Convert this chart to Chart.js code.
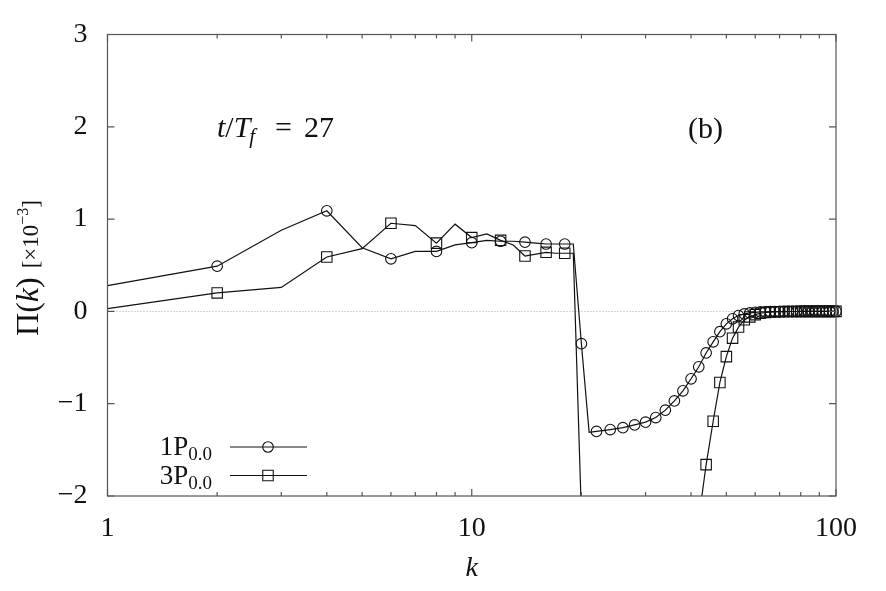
<!DOCTYPE html>
<html><head><meta charset="utf-8">
<script src="https://cdn.jsdelivr.net/npm/chart.js@4.4.0/dist/chart.umd.min.js"></script>
<style>html,body{margin:0;padding:0;background:#fff}#wrap{width:886px;height:591px}</style>
</head><body><div id="wrap"><canvas id="c" width="886" height="591"></canvas></div>
<script>
// ---- data ----
const k1P = [1,2,3,4,5,6,7,8,9,10,11,12,13,14,15,16,17,18,19,20,21,
  22,24,26,28,30,32,34,36,38,40,42,44,46,48,50,52,54,56,58,60,
  62,64,66,68,70,72,74,76,78,80,82,84,86,88,90,92,94,96,98,100];
const pi1P = [0.28,0.49,0.88,1.09,0.69,0.57,0.65,0.65,0.72,0.745,0.77,0.76,0.76,0.75,0.74,0.73,0.73,0.73,0.73,-0.35,-1.31,
  -1.30,-1.28,-1.26,-1.23,-1.20,-1.15,-1.07,-0.97,-0.86,-0.73,-0.60,-0.45,-0.33,-0.22,-0.135,-0.08,-0.045,-0.027,-0.016,-0.01,
  -0.006,-0.004,-0.003,-0.002,-0.002,-0.001,-0.001,-0.001,-0.001,0,0,0,0,0,0,0,0,0,0,0];
const k3P = [1,2,3,4,5,6,7,8,9,10,11,12,13,14,15,16,17,18,19,20,
  42,44,46,48,50,52,54,56,58,60,
  62,64,66,68,70,72,74,76,78,80,82,84,86,88,90,92,94,96,98,100];
const pi3P = [0.03,0.20,0.26,0.59,0.68,0.955,0.93,0.74,0.945,0.80,0.84,0.77,0.72,0.60,0.62,0.64,0.63,0.63,0.63,-2.2,
  -2.25,-1.66,-1.19,-0.77,-0.49,-0.29,-0.17,-0.09,-0.06,-0.035,
  -0.02,-0.012,-0.007,-0.004,-0.003,-0.002,-0.001,-0.001,-0.001,0,0,0,0,0,0,0,0,0,0,0];
const xTickLabels = [1,10,100];
const xMinorTicks = [2,3,4,5,6,7,8,9,20,30,40,50,60,70,80,90];
const yTicks = [-2,-1,0,1,2,3];
const seriesNames = ['1P','3P'];
const seriesSub = '0.0';
const timeLabel = {t:'t', T:'T', f:'f', value:'27'};
const panelLabel = '(b)';

const SERIF = '"Liberation Serif", "Times New Roman", serif';
const toPts = (ks, vs) => ks.map((k,i)=>({x:k, y:vs[i]}));
const evenRadius = r => ctx => (ctx.raw && ctx.raw.x % 2 === 0) ? r : 0;

function drawRuns(ctx, runs, x, y){
  let cx = x;
  runs.forEach(r=>{
    ctx.font = r.font;
    ctx.fillText(r.text, cx, y + (r.dy||0));
    cx += ctx.measureText(r.text).width + (r.gap||0);
  });
  return cx - x;
}
function runsWidth(ctx, runs){
  let w=0; runs.forEach(r=>{ctx.font=r.font; w+=ctx.measureText(r.text).width+(r.gap||0);}); return w;
}

const deco = {
  id:'deco',
  beforeDatasetsDraw(chart){
    const {ctx, chartArea:a, scales:{y}} = chart;
    const y0 = y.getPixelForValue(0);
    ctx.save();
    ctx.strokeStyle = '#aaaaaa'; ctx.lineWidth = 1; ctx.setLineDash([1,2]);
    ctx.beginPath(); ctx.moveTo(a.left, Math.round(y0)+0.5); ctx.lineTo(a.right, Math.round(y0)+0.5); ctx.stroke();
    ctx.restore();
  },
  afterDraw(chart){
    const {ctx, chartArea:a, scales:{x,y}} = chart;
    ctx.save();
    // frame
    ctx.strokeStyle = '#555'; ctx.lineWidth = 1.2;
    ctx.strokeRect(a.left, a.top, a.right-a.left, a.bottom-a.top);
    // ticks
    ctx.beginPath();
    xTickLabels.forEach(v=>{const px=x.getPixelForValue(v);
      ctx.moveTo(px,a.bottom); ctx.lineTo(px,a.bottom-7); ctx.moveTo(px,a.top); ctx.lineTo(px,a.top+7);});
    xMinorTicks.forEach(v=>{const px=x.getPixelForValue(v);
      ctx.moveTo(px,a.bottom); ctx.lineTo(px,a.bottom-4); ctx.moveTo(px,a.top); ctx.lineTo(px,a.top+4);});
    yTicks.forEach(v=>{const py=y.getPixelForValue(v);
      ctx.moveTo(a.left,py); ctx.lineTo(a.left+7,py); ctx.moveTo(a.right,py); ctx.lineTo(a.right-7,py);});
    ctx.stroke();

    ctx.fillStyle = '#111'; ctx.textBaseline = 'alphabetic'; ctx.textAlign = 'left';
    // t/T_f = 27
    drawRuns(ctx, [
      {text:timeLabel.t, font:'italic 30px '+SERIF},
      {text:'/', font:'30px '+SERIF},
      {text:timeLabel.T, font:'italic 30px '+SERIF, gap:-1},
      {text:timeLabel.f, font:'italic 21px '+SERIF, dy:6}
    ], 217, 137);
    ctx.font = '30px '+SERIF; ctx.fillText('=', 275, 137);
    ctx.fillText(timeLabel.value, 304, 137);
    // (b)
    ctx.font = '30px '+SERIF; ctx.fillText(panelLabel, 688, 138);

    // y title
    ctx.save();
    ctx.translate(38, 268); ctx.rotate(-Math.PI/2);
    const yRuns = [
      {text:'Π(', font:'32px '+SERIF},
      {text:'k', font:'italic 32px '+SERIF},
      {text:')', font:'32px '+SERIF, gap:9},
      {text:'[×10', font:'23px '+SERIF},
      {text:'−3', font:'16px '+SERIF, dy:-10},
      {text:']', font:'23px '+SERIF}
    ];
    drawRuns(ctx, yRuns, -runsWidth(ctx,yRuns)/2, 0);
    ctx.restore();

    // legend
    const legY = [447, 475.5];
    const styles = ['circle','rect'];
    const radii = [5.3, 7.4];
    legY.forEach((ly,i)=>{
      ctx.fillStyle = '#111';
      const runs = [{text:seriesNames[i], font:'27px '+SERIF},{text:seriesSub, font:'19px '+SERIF, dy:5}];
      drawRuns(ctx, runs, 212 - runsWidth(ctx,runs), ly+8);
      ctx.strokeStyle = '#111'; ctx.lineWidth = 1.2;
      ctx.beginPath(); ctx.moveTo(230, ly); ctx.lineTo(307, ly); ctx.stroke();
      ctx.fillStyle = 'rgba(0,0,0,0)'; ctx.lineWidth = 1.1;
      Chart.helpers.drawPoint(ctx, {pointStyle:styles[i], radius:radii[i], borderWidth:1.1, rotation:0}, 268, ly);
    });
    ctx.restore();
  }
};

new Chart(document.getElementById('c'), {
  type:'line',
  data:{datasets:[
    {label:'1P0.0', data:toPts(k1P,pi1P), borderColor:'#111', borderWidth:1.2,
     pointStyle:'circle', pointRadius:evenRadius(5.3), pointHoverRadius:0, pointBorderWidth:1.1,
     pointBorderColor:'#111', pointBackgroundColor:'rgba(0,0,0,0)', tension:0,
     clip:{left:10,right:10,top:10,bottom:0}},
    {label:'3P0.0', data:toPts(k3P,pi3P), borderColor:'#111', borderWidth:1.2,
     pointStyle:'rect', pointRadius:evenRadius(7.4), pointHoverRadius:0, pointBorderWidth:1.1,
     pointBorderColor:'#111', pointBackgroundColor:'rgba(0,0,0,0)', tension:0,
     clip:{left:10,right:10,top:10,bottom:0}}
  ]},
  options:{
    responsive:false, animation:false, devicePixelRatio:1,
    layout:{padding:{top:34.5, right:50, left:0, bottom:0}},
    plugins:{legend:{display:false}, tooltip:{enabled:false}},
    scales:{
      x:{type:'logarithmic', min:1, max:100,
        grid:{display:false}, border:{display:false},
        ticks:{autoSkip:false, maxRotation:0, padding:8, color:'#111',
          font:{family:SERIF, size:28},
          callback:(v)=> xTickLabels.some(t=>Math.abs(t-v)<1e-6) ? String(Math.round(v)) : ''},
        title:{display:true, text:'k', color:'#111', font:{family:SERIF, size:28, style:'italic'}, padding:{top:0,bottom:6}},
        afterFit:(s)=>{s.height=95;}
      },
      y:{type:'linear', min:-2, max:3,
        grid:{display:false}, border:{display:false},
        ticks:{stepSize:1, padding:12, color:'#111', font:{family:SERIF, size:28},
          callback:(v)=> v<0 ? '−'+Math.abs(v) : String(v)},
        afterFit:(s)=>{s.width=107.5;}
      }
    }
  },
  plugins:[deco]
});
</script>
</body></html>
